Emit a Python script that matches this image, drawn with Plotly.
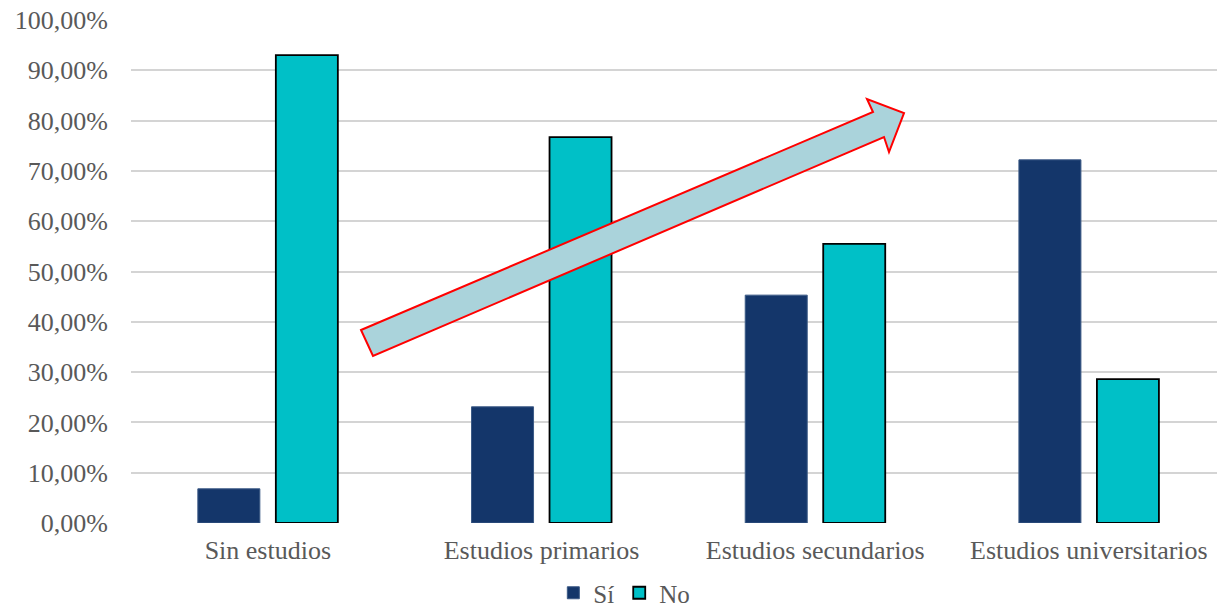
import plotly.graph_objects as go

categories = ["Sin estudios", "Estudios primarios", "Estudios secundarios", "Estudios universitarios"]
si_values = [6.8, 23.1, 45.3, 72.2]
no_values = [93.0, 76.7, 55.5, 28.6]
series_names = ["Sí", "No"]
y_ticks = [0, 10, 20, 30, 40, 50, 60, 70, 80, 90, 100]
y_tick_labels = [f"{v:.2f}%".replace(".", ",") for v in y_ticks]

FONT = "Liberation Serif, Georgia, serif"
TEXT = "#595959"

fig = go.Figure()
fig.add_trace(go.Bar(
    name=series_names[0], x=categories, y=si_values,
    marker=dict(color="#14366A", line=dict(color="#3C5A86", width=1)),
))
fig.add_trace(go.Bar(
    name=series_names[1], x=categories, y=no_values,
    marker=dict(color="#00C0C7", line=dict(color="#000000", width=1.8)),
))

# Decorative block arrow (paper coordinates of the plot area)
L, R, T, B = 131, 1217, 20, 523
arrow_px = [(361, 330), (873, 112), (867, 99), (904, 113), (889, 152), (884, 137), (373, 356)]
def to_paper(p):
    return ((p[0] - L) / (R - L), (B - p[1]) / (B - T))
pts = [to_paper(p) for p in arrow_px]
path = "M " + " L ".join(f"{x:.5f},{y:.5f}" for x, y in pts) + " Z"
fig.add_shape(type="path", path=path, xref="paper", yref="paper",
              fillcolor="#AAD3DB", line=dict(color="#FF0000", width=2), layer="above")

fig.update_layout(
    width=1217, height=616,
    margin=dict(l=L, r=1217 - R, t=T, b=616 - B),
    paper_bgcolor="white", plot_bgcolor="white",
    barmode="group", bargap=0.43, bargroupgap=0.205,
    font=dict(family=FONT, size=26, color=TEXT),
    showlegend=True,
    legend=dict(orientation="h", xref="container", yref="container",
                x=0.513, xanchor="center", y=0.0, yanchor="bottom",
                font=dict(family=FONT, size=25, color=TEXT),
                itemwidth=30, tracegroupgap=0),
    xaxis=dict(showgrid=False, showline=False, zeroline=False,
               range=[-0.5, 3.468],
               tickfont=dict(family=FONT, size=26, color=TEXT),
               ticklabelstandoff=9),
    yaxis=dict(range=[0, 100], tickvals=y_ticks, ticktext=y_tick_labels,
               showgrid=True, gridcolor="#D4D4D4", gridwidth=1.5,
               zeroline=False, showline=False,
               tickfont=dict(family=FONT, size=26, color=TEXT),
               ticklabelstandoff=22),
)

fig.write_html("out.html")
